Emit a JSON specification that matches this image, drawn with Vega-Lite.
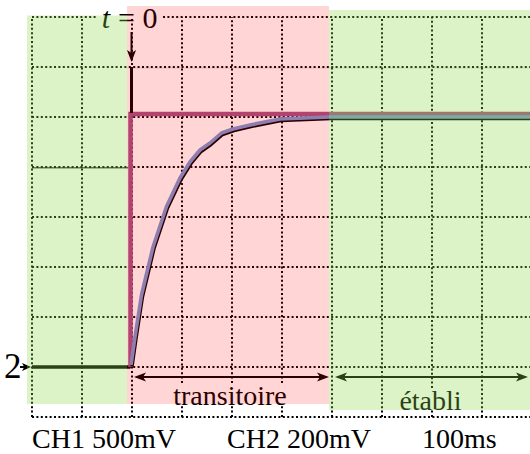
{
  "$schema": "https://vega.github.io/schema/vega-lite/v6.json",
  "width": 498,
  "height": 400,
  "autosize": {"type": "none"},
  "padding": {"left": 32, "top": 17, "right": 0, "bottom": 37},
  "background": "white",
  "config": {"view": {"stroke": null}},
  "datasets": {
    "grid": [
      {"x": 0, "x2": 0, "y": 0, "y2": 8},
      {"x": 1, "x2": 1, "y": 0, "y2": 8},
      {"x": 2, "x2": 2, "y": 0, "y2": 8},
      {"x": 3, "x2": 3, "y": 0, "y2": 0.24},
      {"x": 3, "x2": 3, "y": 0.68, "y2": 8},
      {"x": 4, "x2": 4, "y": 0, "y2": 0.24},
      {"x": 4, "x2": 4, "y": 0.68, "y2": 8},
      {"x": 5, "x2": 5, "y": 0, "y2": 0.24},
      {"x": 5, "x2": 5, "y": 0.68, "y2": 8},
      {"x": 6, "x2": 6, "y": 0, "y2": 8},
      {"x": 7, "x2": 7, "y": 0, "y2": 8},
      {"x": 8, "x2": 8, "y": 0, "y2": 0.14},
      {"x": 8, "x2": 8, "y": 0.58, "y2": 8},
      {"x": 9, "x2": 9, "y": 0, "y2": 8},
      {"x": 0, "x2": 9.96, "y": 0, "y2": 0},
      {"x": 0, "x2": 9.96, "y": 1, "y2": 1},
      {"x": 0, "x2": 9.96, "y": 2, "y2": 2},
      {"x": 0, "x2": 9.96, "y": 3, "y2": 3},
      {"x": 0, "x2": 9.96, "y": 4, "y2": 4},
      {"x": 0, "x2": 9.96, "y": 5, "y2": 5},
      {"x": 0, "x2": 9.96, "y": 6, "y2": 6},
      {"x": 0, "x2": 9.96, "y": 7, "y2": 7},
      {"x": 0, "x2": 1.3, "y": 8, "y2": 8},
      {"x": 2.62, "x2": 9.96, "y": 8, "y2": 8}
    ],
    "refline": [{"x": 0, "x2": 1.92, "y": 4.985, "y2": 4.985}],
    "faintline": [{"x": 1.9, "x2": 10, "y": 6.98, "y2": 6.98}],
    "baseline": [{"x": 0, "x2": 1.97, "y": 1, "y2": 1}],
    "step": [
      {"x": 1.97, "y": 1, "i": 0},
      {"x": 1.97, "y": 6.06, "i": 1},
      {"x": 10, "y": 6.06, "i": 2}
    ],
    "curve": [
      {"x": 1.98, "y": 1.04, "i": 0},
      {"x": 2.06, "y": 1.6, "i": 1},
      {"x": 2.19, "y": 2.44, "i": 2},
      {"x": 2.42, "y": 3.4, "i": 3},
      {"x": 2.69, "y": 4.21, "i": 4},
      {"x": 2.96, "y": 4.78, "i": 5},
      {"x": 3.16, "y": 5.1, "i": 6},
      {"x": 3.36, "y": 5.34, "i": 7},
      {"x": 3.56, "y": 5.48, "i": 8},
      {"x": 3.79, "y": 5.68, "i": 9},
      {"x": 4.02, "y": 5.76, "i": 10},
      {"x": 4.36, "y": 5.84, "i": 11},
      {"x": 4.96, "y": 5.96, "i": 12},
      {"x": 5.96, "y": 6.0, "i": 13},
      {"x": 10, "y": 6.0, "i": 14}
    ],
    "darkvert": [{"x": 1.99, "x2": 1.99, "y": 6.08, "y2": 7.0}],
    "shafts": [
      {"x": 1.99, "x2": 1.99, "y": 7.7, "y2": 7.2},
      {"x": 2.1, "x2": 5.86, "y": 0.8, "y2": 0.8},
      {"x": 6.12, "x2": 9.86, "y": 0.8, "y2": 0.8},
      {"x": -0.24, "x2": -0.06, "y": 1, "y2": 1}
    ],
    "headsRight": [{"x": 5.94, "y": 0.8}, {"x": 9.92, "y": 0.8}],
    "headsLeft": [{"x": 2.04, "y": 0.8}, {"x": 6.06, "y": 0.8}],
    "headDown": [{"x": 1.99, "y": 7.1}],
    "headMarker": [{"x": -0.02, "y": 1}],
    "tItalic": [{"x": 1.394, "y": 7.78, "text": "t"}],
    "tRest": [{"x": 1.72, "y": 7.78, "text": "= 0"}],
    "marker": [{"x": -0.56, "y": 0.78, "text": "2"}],
    "bottom": [
      {"x": 0, "y": -0.61, "text": "CH1 500mV"},
      {"x": 3.9, "y": -0.61, "text": "CH2 200mV"},
      {"x": 7.8, "y": -0.61, "text": "100ms"}
    ],
    "transit": [{"x": 3.96, "y": 0.25, "text": "transitoire"}],
    "etabli": [{"x": 7.97, "y": 0.15, "text": "établi"}],
    "greens": [
      {"x": -0.1, "x2": 1.9, "y": 0.26, "y2": 8.03},
      {"x": 5.94, "x2": 10.2, "y": 0.14, "y2": 8.14}
    ],
    "pinks": [{"x": 1.9, "x2": 5.94, "y": 0.26, "y2": 8.22}]
  },
  "layer": [
    {
      "encoding": {
        "x": {"field": "x", "type": "quantitative", "scale": {"domain": [0, 9.96], "nice": false, "zero": false}, "axis": null},
        "y": {"field": "y", "type": "quantitative", "scale": {"domain": [0, 8], "nice": false, "zero": false}, "axis": null}
      },
      "layer": [
        {
          "data": {"name": "refline"},
          "mark": {"type": "rule", "color": "#555555", "strokeWidth": 1.5},
          "encoding": {"x2": {"field": "x2"}, "y2": {"field": "y2"}}
        },
        {
          "data": {"name": "faintline"},
          "mark": {"type": "rule", "color": "#000000", "opacity": 0.08, "strokeWidth": 1.5},
          "encoding": {"x2": {"field": "x2"}, "y2": {"field": "y2"}}
        },
        {
          "data": {"name": "grid"},
          "mark": {"type": "rule", "color": "#000000", "strokeWidth": 2, "strokeDash": [2, 2.4], "strokeCap": "butt"},
          "encoding": {"x2": {"field": "x2"}, "y2": {"field": "y2"}}
        },
        {
          "data": {"name": "baseline"},
          "mark": {"type": "rule", "color": "#000000", "strokeWidth": 3.5},
          "encoding": {"x2": {"field": "x2"}, "y2": {"field": "y2"}}
        },
        {
          "data": {"name": "step"},
          "mark": {"type": "line", "color": "#a35185", "strokeWidth": 4.5, "strokeJoin": "miter", "strokeCap": "butt"},
          "encoding": {"order": {"field": "i", "type": "quantitative"}}
        }
      ]
    },
    {
      "data": {"name": "curve"},
      "mark": {"type": "line", "color": "#000000", "strokeWidth": 3.5, "strokeJoin": "round"},
      "encoding": {
        "x": {"field": "x", "type": "quantitative", "scale": {"domain": [-0.02, 9.94], "nice": false, "zero": false}, "axis": null},
        "y": {"field": "y", "type": "quantitative", "scale": {"domain": [0.03, 8.03], "nice": false, "zero": false}, "axis": null},
        "order": {"field": "i", "type": "quantitative"}
      }
    },
    {
      "encoding": {
        "x": {"field": "x", "type": "quantitative", "scale": {"domain": [0, 9.96], "nice": false, "zero": false}, "axis": null},
        "y": {"field": "y", "type": "quantitative", "scale": {"domain": [0, 8], "nice": false, "zero": false}, "axis": null}
      },
      "layer": [
        {
          "data": {"name": "curve"},
          "mark": {"type": "line", "color": "#7896d2", "strokeWidth": 3.6, "strokeJoin": "round"},
          "encoding": {"order": {"field": "i", "type": "quantitative"}}
        },
        {
          "data": {"name": "darkvert"},
          "mark": {"type": "rule", "color": "#000000", "strokeWidth": 3},
          "encoding": {"x2": {"field": "x2"}, "y2": {"field": "y2"}}
        },
        {
          "data": {"name": "shafts"},
          "mark": {"type": "rule", "color": "#000000", "strokeWidth": 2},
          "encoding": {"x2": {"field": "x2"}, "y2": {"field": "y2"}}
        },
        {
          "data": {"name": "headsRight"},
          "mark": {"type": "point", "shape": "M0,0 L-1,-0.38 L-0.75,0 L-1,0.38 Z", "filled": true, "color": "#000000", "opacity": 1, "size": 576, "strokeWidth": 0}
        },
        {
          "data": {"name": "headsLeft"},
          "mark": {"type": "point", "shape": "M0,0 L1,-0.38 L0.75,0 L1,0.38 Z", "filled": true, "color": "#000000", "opacity": 1, "size": 576, "strokeWidth": 0}
        },
        {
          "data": {"name": "headDown"},
          "mark": {"type": "point", "shape": "M0,0 L-0.38,-1 L0,-0.75 L0.38,-1 Z", "filled": true, "color": "#000000", "opacity": 1, "size": 576, "strokeWidth": 0}
        },
        {
          "data": {"name": "headMarker"},
          "mark": {"type": "point", "shape": "M0,0 L-1,-0.45 L-0.75,0 L-1,0.45 Z", "filled": true, "color": "#000000", "opacity": 1, "size": 324, "strokeWidth": 0}
        },
        {
          "data": {"name": "tItalic"},
          "mark": {"type": "text", "font": "Liberation Serif", "fontStyle": "italic", "fontSize": 30, "align": "left", "baseline": "alphabetic", "color": "#000000"},
          "encoding": {"text": {"field": "text"}}
        },
        {
          "data": {"name": "tRest"},
          "mark": {"type": "text", "font": "Liberation Serif", "fontSize": 30, "align": "left", "baseline": "alphabetic", "color": "#000000"},
          "encoding": {"text": {"field": "text"}}
        },
        {
          "data": {"name": "marker"},
          "mark": {"type": "text", "font": "Liberation Serif", "fontSize": 35, "align": "left", "baseline": "alphabetic", "color": "#000000"},
          "encoding": {"text": {"field": "text"}}
        },
        {
          "data": {"name": "bottom"},
          "mark": {"type": "text", "font": "Liberation Serif", "fontSize": 28, "align": "left", "baseline": "alphabetic", "color": "#000000"},
          "encoding": {"text": {"field": "text"}}
        },
        {
          "data": {"name": "transit"},
          "mark": {"type": "text", "font": "Liberation Serif", "fontSize": 28, "align": "center", "baseline": "alphabetic", "color": "#000000"},
          "encoding": {"text": {"field": "text"}}
        },
        {
          "data": {"name": "etabli"},
          "mark": {"type": "text", "font": "Liberation Serif", "fontSize": 28, "align": "center", "baseline": "alphabetic", "color": "#000000"},
          "encoding": {"text": {"field": "text"}}
        },
        {
          "data": {"name": "greens"},
          "mark": {"type": "rect", "color": "#8cd746", "opacity": 0.3},
          "encoding": {"x2": {"field": "x2"}, "y2": {"field": "y2"}}
        },
        {
          "data": {"name": "pinks"},
          "mark": {"type": "rect", "color": "#ff0000", "opacity": 0.165},
          "encoding": {"x2": {"field": "x2"}, "y2": {"field": "y2"}}
        }
      ]
    }
  ],
  "resolve": {"scale": {"x": "independent", "y": "independent"}}
}
